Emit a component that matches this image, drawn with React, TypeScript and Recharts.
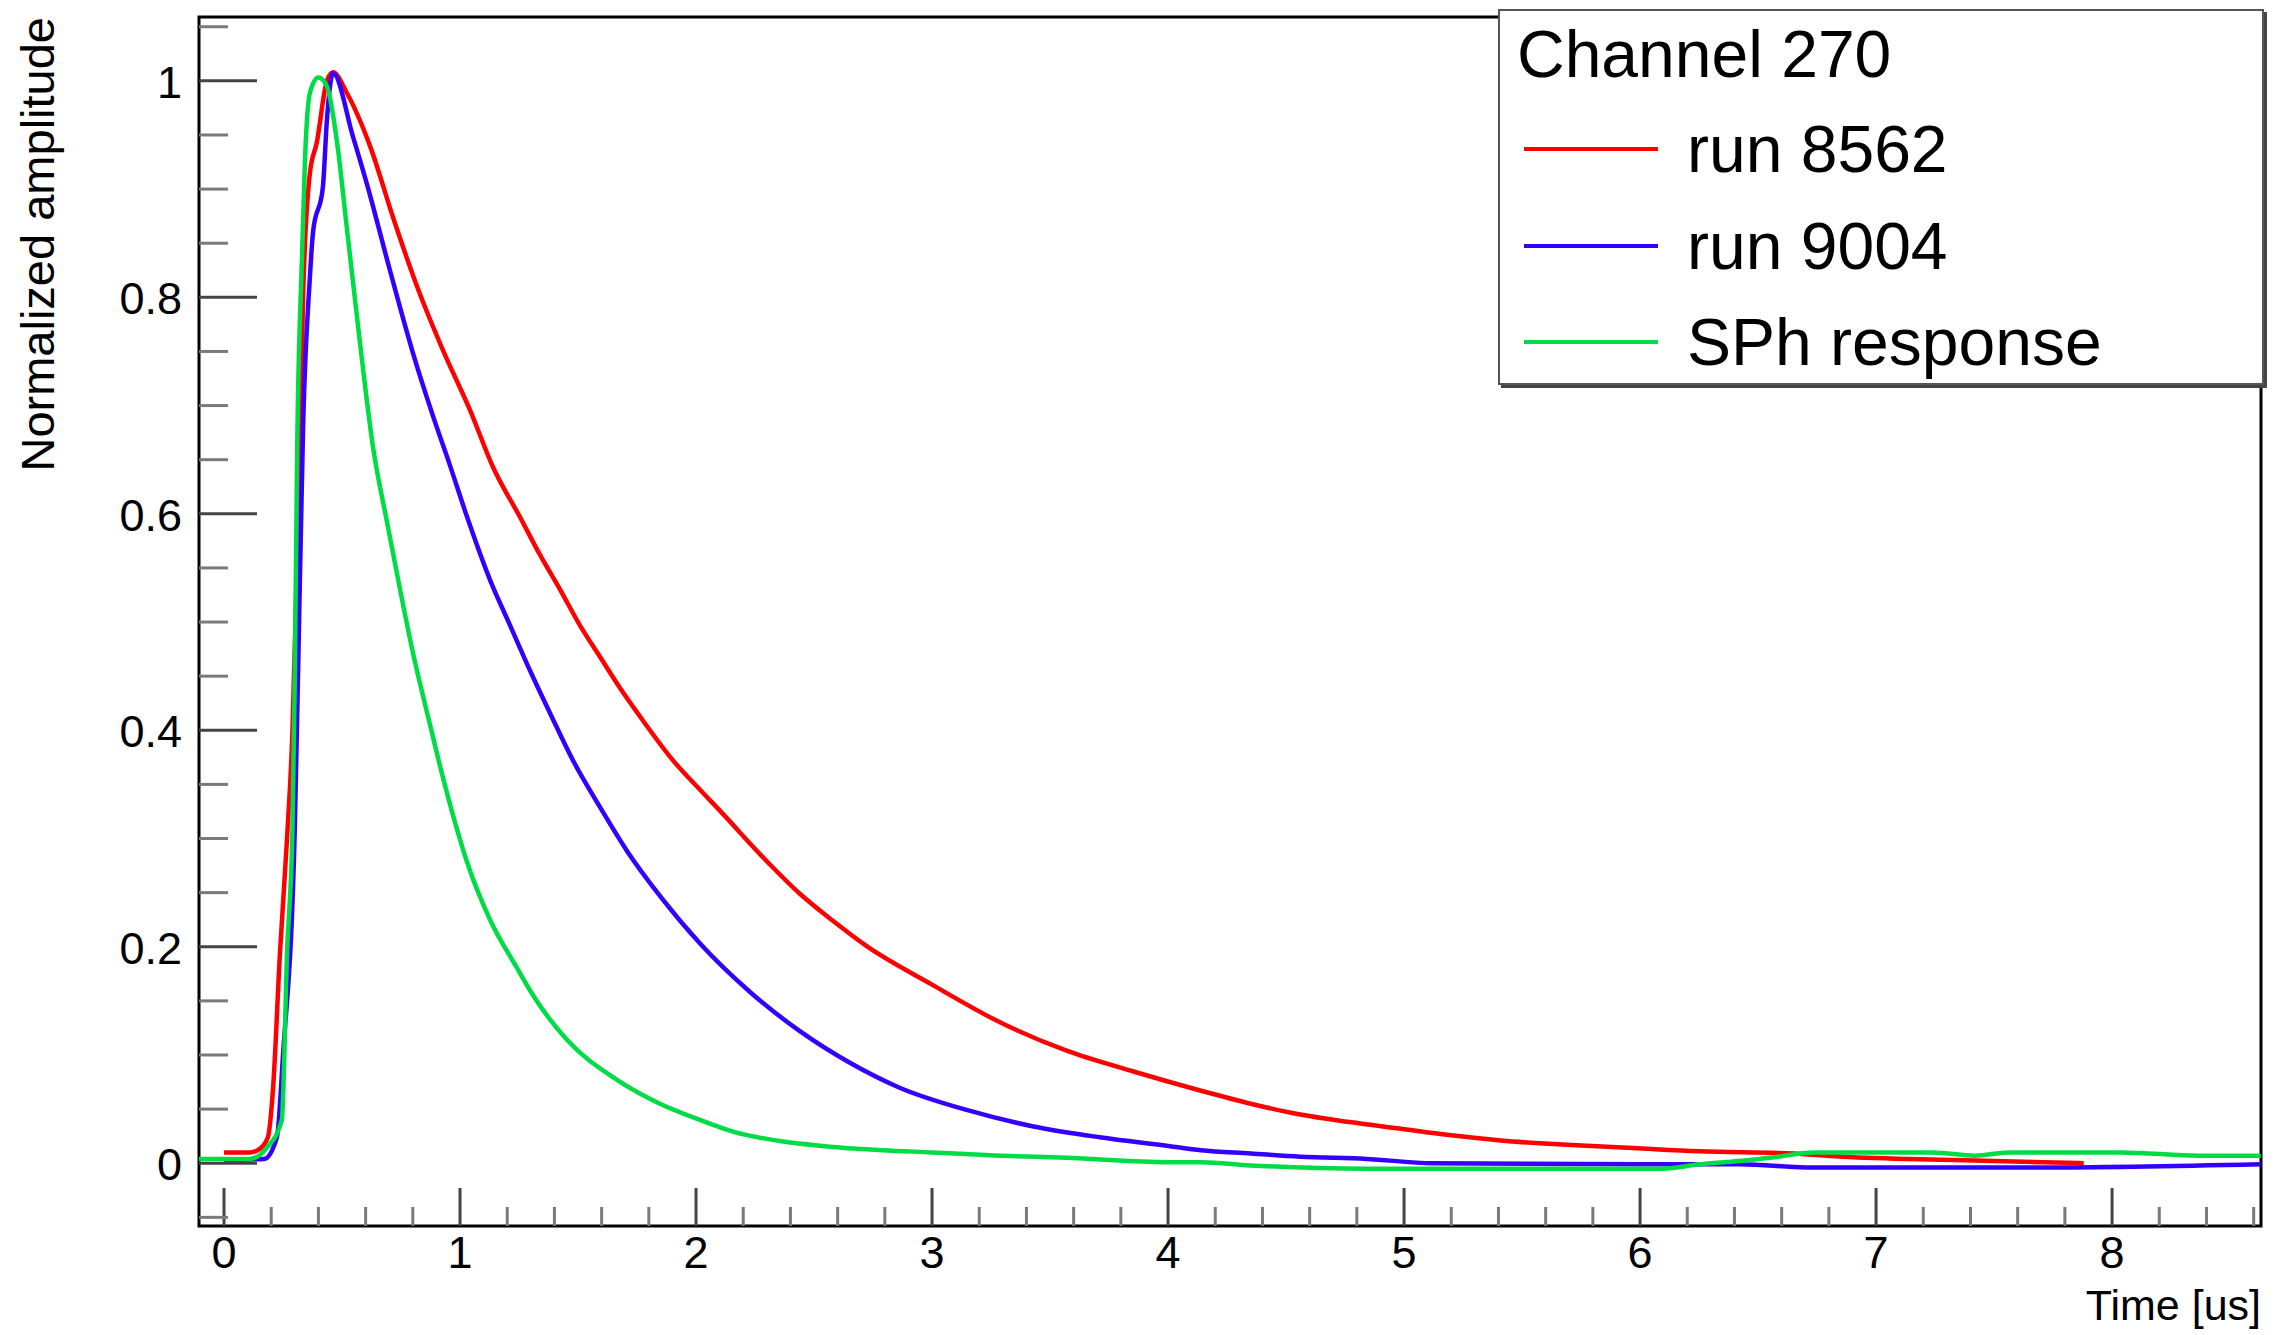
import React from "react";
import { LineChart, Line, XAxis, YAxis, Legend, ReferenceArea } from "recharts";

const FONT = '"Liberation Sans", Arial, Helvetica, sans-serif';

// axis ranges (us / normalized amplitude)
const X_MIN = -0.106;
const X_MAX = 8.631;
const Y_MIN = -0.058;
const Y_MAX = 1.059;

const xTickLabels = [0, 1, 2, 3, 4, 5, 6, 7, 8];
const yTickLabels = [0, 0.2, 0.4, 0.6, 0.8, 1];

// run 8562
const run8562Time = [
  0, 0.11, 0.15, 0.186, 0.208, 0.237, 0.267, 0.29, 0.305, 0.322, 0.335, 0.364, 0.393, 0.436, 0.462,
  0.52, 0.62, 0.716, 0.818, 0.928, 1.042, 1.14, 1.254, 1.339, 1.424, 1.508, 1.593, 1.678, 1.775,
  1.903, 2.017, 2.1, 2.3, 2.44, 2.58, 2.72, 3.0, 3.29, 3.57, 3.85, 4.14, 4.35, 4.56, 4.77, 4.98,
  5.19, 5.41, 5.69, 5.97, 6.25, 6.65, 6.86, 7.33, 7.88,
];
const run8562Amp = [
  0.01, 0.01, 0.013, 0.024, 0.07, 0.194, 0.3, 0.4, 0.52, 0.668, 0.8, 0.915, 0.943, 1.0, 1.008,
  0.989, 0.939, 0.874, 0.81, 0.751, 0.696, 0.643, 0.597, 0.562, 0.53, 0.497, 0.468, 0.439, 0.409,
  0.372, 0.345, 0.326, 0.279, 0.249, 0.224, 0.201, 0.165, 0.13, 0.104, 0.085, 0.067, 0.055, 0.045,
  0.038, 0.032, 0.026, 0.021, 0.017, 0.014, 0.011, 0.009, 0.006, 0.003, 0.0,
];

// run 9004
const run9004Time = [
  0, 0.17, 0.224, 0.25, 0.3, 0.318, 0.335, 0.364, 0.377, 0.419, 0.436, 0.462, 0.547, 0.605, 0.703,
  0.8, 0.886, 0.957, 1.03, 1.127, 1.212, 1.297, 1.381, 1.479, 1.593, 1.706, 1.847, 2.017, 2.23,
  2.44, 2.65, 2.86, 3.15, 3.43, 3.71, 4.0, 4.14, 4.35, 4.56, 4.84, 5.12, 6.0, 6.42, 6.74, 7.7, 8.63,
];
const run9004Amp = [
  0.003, 0.004, 0.024, 0.1, 0.31, 0.5, 0.68, 0.819, 0.86, 0.902, 0.964, 1.007, 0.948, 0.905, 0.825,
  0.749, 0.69, 0.645, 0.597, 0.539, 0.497, 0.455, 0.416, 0.372, 0.329, 0.289, 0.247, 0.203, 0.158,
  0.122, 0.093, 0.07, 0.049, 0.034, 0.024, 0.016, 0.012, 0.009, 0.006, 0.004, 0.0, -0.001, -0.001,
  -0.004, -0.004, -0.001,
];

// single photon response
const sphTime = [
  -0.106, 0.11, 0.18, 0.245, 0.267, 0.29, 0.3, 0.31, 0.33, 0.343, 0.364, 0.4, 0.436, 0.479, 0.52,
  0.576, 0.631, 0.69, 0.746, 0.8, 0.873, 0.928, 1.0, 1.03, 1.127, 1.24, 1.31, 1.453, 1.665, 1.847,
  2.017, 2.16, 2.37, 2.58, 2.79, 3.0, 3.29, 3.57, 4.0, 4.14, 4.35, 4.84, 6.1, 6.25, 6.42, 6.55,
  6.74, 7.24, 7.42, 7.56, 8.04, 8.37, 8.63,
];
const sphAmp = [
  0.004, 0.004, 0.014, 0.04, 0.194, 0.31, 0.45, 0.66, 0.835, 0.927, 0.989, 1.003, 0.995, 0.943,
  0.865, 0.758, 0.662, 0.593, 0.53, 0.472, 0.405, 0.356, 0.299, 0.278, 0.225, 0.181, 0.155, 0.114,
  0.077, 0.055, 0.04, 0.029, 0.02, 0.015, 0.012, 0.01, 0.007, 0.005, 0.001, 0.001, -0.002,
  -0.005, -0.005, -0.001, 0.002, 0.005, 0.01, 0.01, 0.007, 0.01, 0.01, 0.007, 0.007,
];

const toPoints = (t: number[], a: number[]) => t.map((x, i) => ({ t: x, v: a[i] }));

const series = [
  { name: "run 8562", color: "#ff0000", data: toPoints(run8562Time, run8562Amp) },
  { name: "run 9004", color: "#3300ff", data: toPoints(run9004Time, run9004Amp) },
  { name: "SPh response", color: "#00dc46", data: toPoints(sphTime, sphAmp) },
];

// minor ticks every 0.2 on x, every 0.05 on y
const xTicks: number[] = [];
for (let i = 0; i * 0.2 <= X_MAX; i++) xTicks.push(Math.round(i * 2) / 10);
const yTicks: number[] = [];
for (let i = -1; i <= 21; i++) yTicks.push(Math.round(i * 5) / 100);

const isXMajor = (v: number) => xTickLabels.some((l) => Math.abs(l - v) < 1e-6);
const isYMajor = (v: number) => yTickLabels.some((l) => Math.abs(l - v) < 1e-6);

const XTick = (props: any) => {
  const { x, y, payload } = props;
  const major = isXMajor(payload.value);
  return (
    <g>
      <line x1={x} x2={x} y1={y} y2={y - (major ? 38 : 19)} stroke={major ? "#444" : "#7a7a7a"} strokeWidth={3} />
      {major && (
        <text x={x} y={y + 42} textAnchor="middle" fontSize={45} fontFamily={FONT} fill="#000">
          {payload.value}
        </text>
      )}
    </g>
  );
};

const YTick = (props: any) => {
  const { x, y, payload } = props;
  const major = isYMajor(payload.value);
  return (
    <g>
      <line x1={x} x2={x + (major ? 58 : 29)} y1={y} y2={y} stroke={major ? "#444" : "#7a7a7a"} strokeWidth={3} />
      {major && (
        <text x={x - 17} y={y + 17} textAnchor="end" fontSize={45} fontFamily={FONT} fill="#000">
          {String(Number(payload.value.toFixed(1)))}
        </text>
      )}
    </g>
  );
};

const YTitle = ({ viewBox }: any) => {
  const vb = viewBox ?? { x: 0, y: 17, width: 199, height: 1209 };
  const x = vb.x + 54;
  const y = vb.y;
  return (
    <text x={x} y={y} transform={`rotate(-90 ${x} ${y})`} textAnchor="end" fontSize={47} fontFamily={FONT} fill="#000">
      Normalized amplitude
    </text>
  );
};

const XTitle = ({ viewBox }: any) => {
  const vb = viewBox ?? { x: 199, y: 1226, width: 2062, height: 109 };
  return (
    <text x={vb.x + vb.width} y={vb.y + 94} textAnchor="end" fontSize={43} fontFamily={FONT} fill="#000">
      Time [us]
    </text>
  );
};

const LegendBox = () => {
  const rows = [138, 235, 331];
  return (
    <div
      style={{
        position: "relative",
        width: "100%",
        height: "100%",
        boxSizing: "border-box",
        border: "2px solid #555",
        boxShadow: "3px 3px 0 #444",
        background: "#fff",
        fontFamily: FONT,
        color: "#000",
      }}
    >
      <div style={{ position: "absolute", left: 17, top: 43 - 33, fontSize: 66, lineHeight: "66px", whiteSpace: "nowrap" }}>
        Channel 270
      </div>
      {series.map((s, i) => (
        <React.Fragment key={s.name}>
          <div style={{ position: "absolute", left: 24, top: rows[i] - 2, width: 134, height: 4, background: s.color }} />
          <div style={{ position: "absolute", left: 187, top: rows[i] - 33, fontSize: 66, lineHeight: "66px", whiteSpace: "nowrap" }}>
            {s.name}
          </div>
        </React.Fragment>
      ))}
    </div>
  );
};

export default function App() {
  return (
    <div style={{ position: "absolute", left: 0, top: 0, width: 2280, height: 1335, background: "#fff" }}>
      <LineChart width={2280} height={1335} margin={{ top: 17, right: 19, bottom: 0, left: 0 }}>
        <XAxis
          dataKey="t"
          type="number"
          domain={[X_MIN, X_MAX]}
          allowDataOverflow
          ticks={xTicks}
          interval={0}
          height={109}
          tickSize={0}
          tickMargin={0}
          tickLine={false}
          axisLine={false}
          tick={<XTick />}
          label={<XTitle />}
        />
        <YAxis
          type="number"
          domain={[Y_MIN, Y_MAX]}
          allowDataOverflow
          ticks={yTicks}
          interval={0}
          width={199}
          tickSize={0}
          tickMargin={0}
          tickLine={false}
          axisLine={false}
          tick={<YTick />}
          label={<YTitle />}
        />
        {series.map((s) => (
          <Line
            key={s.name}
            data={s.data}
            dataKey="v"
            name={s.name}
            type="monotone"
            stroke={s.color}
            strokeWidth={4.5}
            dot={false}
            activeDot={false}
            isAnimationActive={false}
          />
        ))}
        <ReferenceArea
          x1={X_MIN}
          x2={X_MAX}
          y1={Y_MIN}
          y2={Y_MAX}
          fill="none"
          stroke="#000"
          strokeWidth={3}
          ifOverflow="visible"
        />
        <Legend
          layout="horizontal"
          verticalAlign="middle"
          align="center"
          content={<LegendBox />}
          wrapperStyle={{ position: "absolute", left: 1498, top: 9, width: 766, height: 376 }}
        />
      </LineChart>
    </div>
  );
}
